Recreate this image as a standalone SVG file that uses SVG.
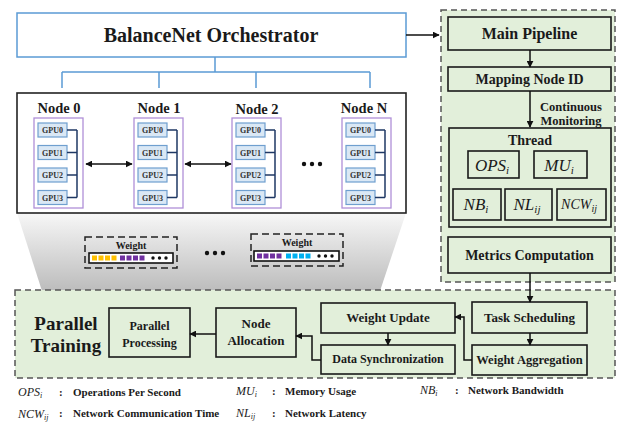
<svg xmlns="http://www.w3.org/2000/svg" width="621" height="422" viewBox="0 0 621 422" font-family="'Liberation Serif', 'Times New Roman', Times, serif">
<style>
.b{font-weight:bold;fill:#1a1a1a}
.m{font-style:italic;fill:#1a1a1a}
.box{fill:#e2efda;stroke:#1a1a1a;stroke-width:1.6}
.panel{fill:#e2efda;stroke:#555;stroke-width:1.5;stroke-dasharray:6,4}
.gpu{fill:#dae8f5;stroke:#6f9fcf;stroke-width:1.2}
.gt{font-weight:bold;font-size:8px;fill:#333;text-anchor:middle}
.pur{fill:#fff;stroke:#b08fd8;stroke-width:1.3}
.br{fill:none;stroke:#1f3864;stroke-width:1.5}
.con{fill:none;stroke:#111;stroke-width:1.5}
.blue{fill:none;stroke:#5b9bd5;stroke-width:1.5}
.dash{fill:none;stroke:#222;stroke-width:1.5;stroke-dasharray:7,4}
</style>
<defs>
<marker id="ah" viewBox="0 0 10 10" refX="9" refY="5" markerWidth="7" markerHeight="7" orient="auto-start-reverse" markerUnits="userSpaceOnUse"><path d="M0,0 L10,5 L0,10 z" fill="#111"/></marker>
<linearGradient id="gr" x1="0" y1="0" x2="0" y2="1"><stop offset="0" stop-color="#f7f7f7"/><stop offset="1" stop-color="#bcbcbc"/></linearGradient>
<g id="gpus">
<rect class="pur" x="0" y="118" width="49" height="90"/>
<rect class="gpu" x="4" y="123" width="29" height="14"/>
<rect class="gpu" x="4" y="145.5" width="29" height="14"/>
<rect class="gpu" x="4" y="168" width="29" height="14"/>
<rect class="gpu" x="4" y="190.5" width="29" height="14"/>
<text class="gt" x="18.5" y="133">GPU0</text>
<text class="gt" x="18.5" y="155.5">GPU1</text>
<text class="gt" x="18.5" y="178">GPU2</text>
<text class="gt" x="18.5" y="200.5">GPU3</text>
<path class="br" d="M33,130 H43 M33,152.5 H43 M33,175 H43 M33,197.5 H43 M43,130 V197.5"/>
</g>
</defs>
<rect width="621" height="422" fill="#fff"/>

<polygon points="17,213 406,213 380,291 42,291" fill="url(#gr)"/>

<rect class="panel" x="441" y="10" width="174" height="272"/>
<rect class="panel" x="15" y="290" width="600" height="88"/>

<g id="orchestrator">
<rect x="17" y="13" width="389" height="44" fill="#fff" stroke="#5b9bd5" stroke-width="1.5"/>
<text class="b" x="211" y="42" font-size="20" text-anchor="middle">BalanceNet Orchestrator</text>
</g>

<g id="cluster">
<rect x="17" y="93" width="389" height="120" fill="#fff" stroke="#222" stroke-width="1.6"/>
</g>
<g id="node0" transform="translate(34,0)"><use href="#gpus"/><text class="b" x="25" y="113" font-size="14.5" text-anchor="middle">Node 0</text></g>
<g id="node1" transform="translate(134,0)"><use href="#gpus"/><text class="b" x="25" y="113" font-size="14.5" text-anchor="middle">Node 1</text></g>
<g id="node2" transform="translate(232,0)"><use href="#gpus"/><text class="b" x="25" y="114" font-size="14.5" text-anchor="middle">Node 2</text></g>
<g id="nodeN" transform="translate(342,0)"><use href="#gpus"/><text class="b" x="22" y="113" font-size="14.5" text-anchor="middle">Node N</text></g>
<g id="dots1" fill="#111"><circle cx="304" cy="164" r="2.2"/><circle cx="312" cy="164" r="2.2"/><circle cx="320" cy="164" r="2.2"/></g>

<g id="weight1">
<rect class="dash" x="85" y="237" width="92" height="31"/>
<text class="b" x="131" y="249" font-size="10" text-anchor="middle">Weight</text>
<rect x="89" y="253" width="84" height="10" fill="#fff" stroke="#111" stroke-width="1.6"/>
<g fill="#ffc000"><rect x="92" y="255.5" width="5" height="5"/><rect x="98.5" y="255.5" width="5" height="5"/><rect x="105" y="255.5" width="5" height="5"/><rect x="111.5" y="255.5" width="5" height="5"/></g>
<g fill="#7030a0"><rect x="120" y="255.5" width="5" height="5"/><rect x="126.5" y="255.5" width="5" height="5"/><rect x="133" y="255.5" width="5" height="5"/><rect x="139.5" y="255.5" width="5" height="5"/></g>
<g fill="#111"><circle cx="153" cy="258" r="1.7"/><circle cx="159.5" cy="258" r="1.7"/><circle cx="166" cy="258" r="1.7"/></g>
</g>
<g id="dots2" fill="#111"><circle cx="207" cy="253" r="2.2"/><circle cx="215" cy="253" r="2.2"/><circle cx="223" cy="253" r="2.2"/></g>
<g id="weight2">
<rect class="dash" x="251" y="234" width="92" height="32"/>
<text class="b" x="297" y="246" font-size="10" text-anchor="middle">Weight</text>
<rect x="254" y="251" width="85" height="10" fill="#fff" stroke="#111" stroke-width="1.6"/>
<g fill="#7030a0"><rect x="257" y="253.5" width="5" height="5"/><rect x="263.5" y="253.5" width="5" height="5"/><rect x="270" y="253.5" width="5" height="5"/><rect x="276.5" y="253.5" width="5" height="5"/></g>
<g fill="#00b0f0"><rect x="286" y="253.5" width="5" height="5"/><rect x="292.5" y="253.5" width="5" height="5"/><rect x="299" y="253.5" width="5" height="5"/><rect x="305.5" y="253.5" width="5" height="5"/></g>
<g fill="#111"><circle cx="319" cy="256" r="1.7"/><circle cx="325.5" cy="256" r="1.7"/><circle cx="332" cy="256" r="1.7"/></g>
</g>

<g id="mainPipeline"><rect class="box" x="448" y="17" width="163" height="33"/><text class="b" x="529.5" y="39" font-size="16" text-anchor="middle">Main Pipeline</text></g>
<g id="mappingNode"><rect class="box" x="448" y="67" width="163" height="24"/><text class="b" x="529.5" y="84" font-size="14" text-anchor="middle">Mapping Node ID</text></g>
<text class="b" x="571" y="111" font-size="12.5" text-anchor="middle">Continuous</text>
<text class="b" x="571" y="125" font-size="12.5" text-anchor="middle">Monitoring</text>
<g id="thread">
<rect class="box" x="449" y="128" width="162" height="99"/>
<text class="b" x="530" y="145" font-size="14" text-anchor="middle">Thread</text>
<rect class="box" x="468" y="151" width="51" height="27"/>
<text class="m" x="492" y="171" font-size="17" text-anchor="middle">OPS<tspan font-size="11" dy="3">i</tspan></text>
<rect class="box" x="534" y="151" width="53" height="27"/>
<text class="m" x="559" y="171" font-size="17" text-anchor="middle">MU<tspan font-size="11" dy="3">i</tspan></text>
<rect class="box" x="453" y="189" width="48" height="31"/>
<text class="m" x="476" y="210" font-size="17" text-anchor="middle">NB<tspan font-size="11" dy="3">i</tspan></text>
<rect class="box" x="505" y="189" width="47" height="31"/>
<text class="m" x="527" y="210" font-size="17" text-anchor="middle">NL<tspan font-size="11" dy="3">ij</tspan></text>
<rect class="box" x="557" y="189" width="49" height="31"/>
<text class="m" x="579" y="209" font-size="14" text-anchor="middle">NCW<tspan font-size="10" dy="3">ij</tspan></text>
</g>
<g id="metrics"><rect class="box" x="448" y="237" width="163" height="36"/><text class="b" x="529.5" y="260" font-size="14" text-anchor="middle">Metrics Computation</text></g>

<text class="b" x="66" y="330" font-size="19" text-anchor="middle">Parallel</text>
<text class="b" x="66" y="352" font-size="19" text-anchor="middle">Training</text>
<g id="parallelProcessing"><rect class="box" x="109" y="308" width="81" height="49"/><text class="b" x="149.5" y="330" font-size="12" text-anchor="middle">Parallel</text><text class="b" x="149.5" y="347" font-size="12" text-anchor="middle">Processing</text></g>
<g id="nodeAllocation"><rect class="box" x="216" y="308" width="80" height="49"/><text class="b" x="256" y="328" font-size="13" text-anchor="middle">Node</text><text class="b" x="256" y="345" font-size="13" text-anchor="middle">Allocation</text></g>
<g id="weightUpdate"><rect class="box" x="321" y="303" width="134" height="30"/><text class="b" x="388" y="322" font-size="13" text-anchor="middle">Weight Update</text></g>
<g id="dataSync"><rect class="box" x="321" y="345" width="134" height="29"/><text class="b" x="388" y="363" font-size="12" text-anchor="middle">Data Synchronization</text></g>
<g id="taskScheduling"><rect class="box" x="472" y="302" width="115" height="31"/><text class="b" x="529.5" y="322" font-size="13" text-anchor="middle">Task Scheduling</text></g>
<g id="weightAggregation"><rect class="box" x="472" y="345" width="115" height="30"/><text class="b" x="529.5" y="364" font-size="12.5" text-anchor="middle">Weight Aggregation</text></g>

<g id="connectors">
<path class="blue" d="M215,57 V72 M62,72 H370 M62,72 V88 M159,72 V88 M256,72 V88 M370,72 V88"/>
<path class="con" d="M406,35 H439" marker-end="url(#ah)"/>
<path class="con" d="M86,164 H132" marker-start="url(#ah)" marker-end="url(#ah)"/>
<path class="con" d="M185,164 H231" marker-start="url(#ah)" marker-end="url(#ah)"/>
<path class="con" d="M530,50 V67" marker-end="url(#ah)"/>
<path class="con" d="M530,91 V127" marker-end="url(#ah)"/>
<path class="con" d="M530,273 V302" marker-end="url(#ah)"/>
<path class="con" d="M530,333 V345" marker-end="url(#ah)"/>
<path class="con" d="M472,360 H464 V317 H455" marker-end="url(#ah)"/>
<path class="con" d="M388,333 V345" marker-end="url(#ah)"/>
<path class="con" d="M321,360 H312 V336 H296" marker-end="url(#ah)"/>
<path class="con" d="M216,334 H190" marker-end="url(#ah)"/>
</g>

<g id="legend">
<text class="m" x="18" y="396" font-size="12">OPS<tspan font-size="8" dy="2">i</tspan></text>
<text class="b" x="59" y="396" font-size="11">:</text>
<text class="b" x="73" y="396" font-size="11">Operations Per Second</text>
<text class="m" x="236" y="395" font-size="12">MU<tspan font-size="8" dy="2">i</tspan></text>
<text class="b" x="272" y="395" font-size="11">:</text>
<text class="b" x="285" y="395" font-size="11">Memory Usage</text>
<text class="m" x="420" y="394" font-size="12">NB<tspan font-size="8" dy="2">i</tspan></text>
<text class="b" x="455" y="394" font-size="11">:</text>
<text class="b" x="468" y="394" font-size="11">Network Bandwidth</text>
<text class="m" x="18" y="418" font-size="12">NCW<tspan font-size="8" dy="2">ij</tspan></text>
<text class="b" x="59" y="417" font-size="11">:</text>
<text class="b" x="73" y="417" font-size="11">Network Communication Time</text>
<text class="m" x="236" y="417" font-size="12">NL<tspan font-size="8" dy="2">ij</tspan></text>
<text class="b" x="272" y="417" font-size="11">:</text>
<text class="b" x="285" y="417" font-size="11">Network Latency</text>
</g>
</svg>
